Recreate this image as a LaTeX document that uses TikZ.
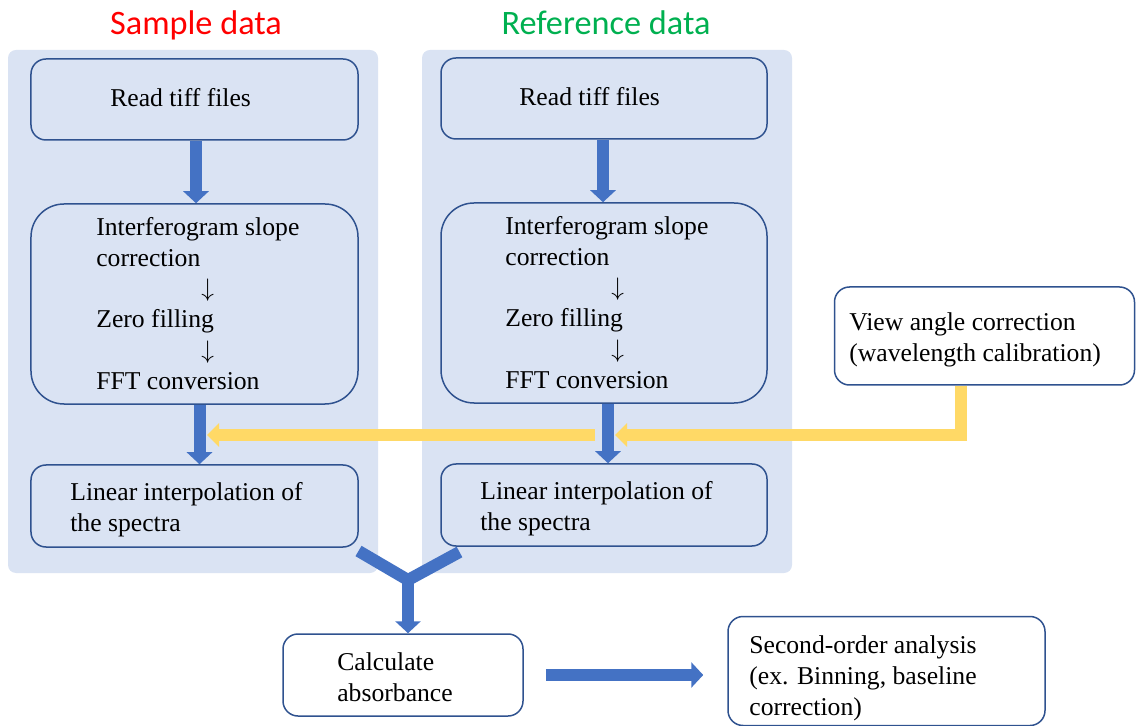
\documentclass[tikz,border=0pt]{standalone}
\usepackage{fontspec}
\setmainfont{Liberation Serif}
\newfontfamily\headfont{Carlito}
\usepackage{tikz}
\usetikzlibrary{arrows.meta}
\definecolor{panelbg}{RGB}{218,227,243}
\definecolor{boxline}{RGB}{47,82,143}
\definecolor{arrblue}{RGB}{68,114,196}
\definecolor{arryel}{RGB}{255,217,102}
\definecolor{refgreen}{RGB}{0,176,80}

\begin{document}
\begin{tikzpicture}[x=0.2mm,y=-0.2mm]
\tikzset{procbox/.style = {draw=boxline, line width=0.3mm, rounded corners=3mm, minimum width=65.4mm, minimum height=16.2mm}}
\tikzset{txt/.style = {anchor=west, align=left, inner sep=0pt, font=\fontsize{14.6}{17.6}\selectfont}}
\tikzset{headline/.style = {inner sep=0pt, font=\headfont\fontsize{19.5}{23}\selectfont}}
\tikzset{bluearr/.style = {draw=arrblue, line width=2.4mm, -{Triangle[width=5mm,length=2.4mm]}}}
\tikzset{yelarr/.style = {draw=arryel, line width=2.4mm, -{Triangle[width=4.6mm,length=2.4mm]}}}
\useasboundingbox (0,0) rectangle (1136,726);
% panels
\fill[panelbg, rounded corners=1.6mm] (8,50) rectangle (378,573);
\fill[panelbg, rounded corners=1.6mm] (422,50) rectangle (792,573);
% titles
\node[headline, text=red] (st) at (196,25) {Sample data};
\node[headline, text=refgreen] (rt) at (606,23) {Reference data};
% boxes
\node[procbox] (rs1) at (194.5,99.5) {};
\node[procbox, minimum height=40mm, rounded corners=6.6mm] (if1) at (194.5,304) {};
\node[procbox, minimum height=16.4mm] (li1) at (194.5,506) {};
\node[procbox, minimum width=65.2mm] (rs2) at (604,98.5) {};
\node[procbox, minimum width=65.2mm, minimum height=40mm, rounded corners=6.6mm] (if2) at (604,303) {};
\node[procbox, minimum width=65.2mm, minimum height=16.4mm] (li2) at (604,505) {};
\node[procbox, minimum width=60mm, minimum height=19.6mm, fill=white] (va) at (984.5,336) {};
\node[procbox, minimum width=48mm, minimum height=16.4mm] (ca) at (403,675) {};
\node[procbox, minimum width=63.4mm, minimum height=21.8mm] (so) at (886.5,671) {};
% texts
\node[txt] (rs1t) at (110,98) {Read tiff files};
\node[txt] (if1t) at (96,303.5) {Interferogram slope\\correction\\\hspace{21mm}$\downarrow$\\Zero filling\\\hspace{21mm}$\downarrow$\\FFT conversion};
\node[txt] (li1t) at (70,510) {Linear interpolation of\\the spectra};
\node[txt] (rs2t) at (519,97) {Read tiff files};
\node[txt] (if2t) at (505,302.5) {Interferogram slope\\correction\\\hspace{21.2mm}$\downarrow$\\Zero filling\\\hspace{21.2mm}$\downarrow$\\FFT conversion};
\node[txt] (li2t) at (480,509) {Linear interpolation of\\the spectra};
\node[txt] (vat) at (849,340) {View angle correction\\(wavelength calibration)};
\node[txt] (cat) at (337,677.5) {Calculate\\absorbance};
\node[txt] (sot) at (749,678) {Second-order analysis\\(ex. Binning, baseline\\correction)};
% yellow arrows
\coordinate (ybend) at (961,435);
\coordinate (ytip1) at (615,435);
\coordinate (ytail2) at (595,435);
\coordinate (ytip2) at (207,435);
\draw[yelarr] (va.south -| ybend) -- (ybend) -- (ytip1);
\draw[yelarr] (ytail2) -- (ytip2);
% blue arrows
\draw[bluearr] ([xshift=0.3mm]rs1.south) -- ([xshift=0.3mm]if1.north);
\draw[bluearr] ([xshift=-0.2mm]rs2.south) -- ([xshift=-0.2mm]if2.north);
\draw[bluearr] ([xshift=1mm]if1.south) -- ([xshift=1mm]li1.north);
\draw[bluearr] ([xshift=0.8mm]if2.south) -- ([xshift=0.8mm]li2.north);
\coordinate (ya) at (358.5,551);
\coordinate (yb) at (459.5,552);
\coordinate (yj) at (408,580);
\draw[draw=arrblue, line width=2.4mm] (ya) -- (yj) -- (yb);
\draw[bluearr] (yj) -- (yj |- ca.north);
\path (ca.east -| so.west) coordinate (sw);
\draw[bluearr] ([xshift=4.4mm]ca.east) -- ([xshift=-4.8mm]sw);
\end{tikzpicture}
\end{document}
